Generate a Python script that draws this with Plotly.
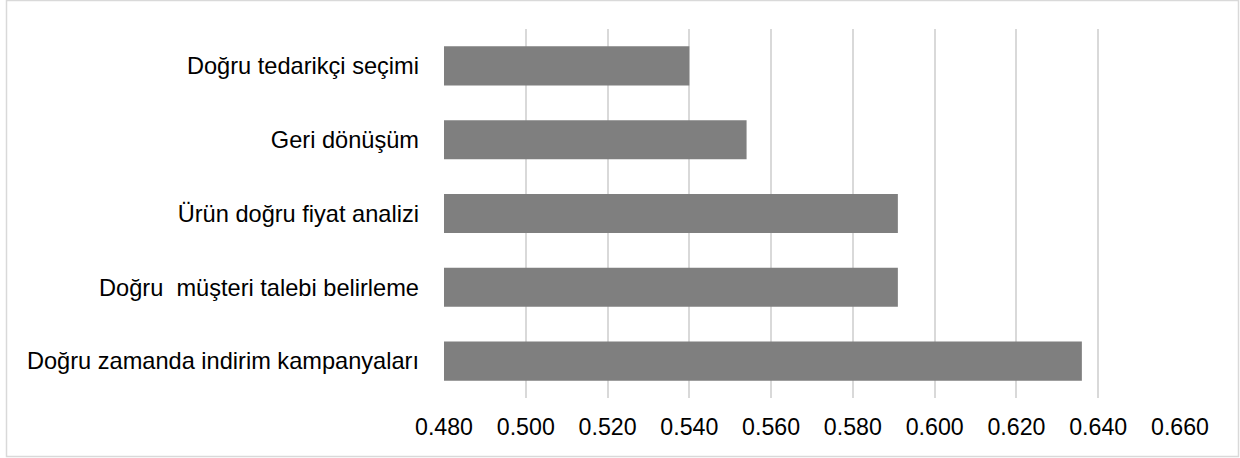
import plotly.graph_objects as go

# Category labels (top to bottom) and their scores
factors = [
    "Doğru tedarikçi seçimi",
    "Geri dönüşüm",
    "Ürün doğru fiyat analizi",
    "Doğru\u00a0 müşteri talebi belirleme",
    "Doğru zamanda indirim kampanyaları",
]
scores = [0.540, 0.554, 0.591, 0.591, 0.636]

x_min, x_max, x_step = 0.48, 0.66, 0.02

W, H = 1240, 458
L, R, T, B = 444, 60, 29, 60

# bars start at the left edge of the axis, so lengths are value minus base
fig = go.Figure(
    go.Bar(
        x=[s - x_min for s in scores],
        y=factors,
        base=x_min,
        orientation="h",
        marker=dict(color="#7f7f7f", line=dict(width=0)),
        hoverinfo="skip",
    )
)

cat_font = dict(family="Liberation Sans, Arial, sans-serif", size=23.6, color="#000000")
tick_font = dict(family="Liberation Sans, Arial, sans-serif", size=23.2, color="#000000")

fig.update_layout(
    width=W,
    height=H,
    margin=dict(l=L, r=R, t=T, b=B),
    paper_bgcolor="white",
    plot_bgcolor="white",
    bargap=0.47,
    showlegend=False,
    xaxis=dict(
        range=[x_min, x_max],
        dtick=x_step,
        tick0=x_min,
        tickformat=".3f",
        showgrid=True,
        gridcolor="#d9d9d9",
        gridwidth=1.5,
        zeroline=False,
        showline=False,
        ticks="",
        ticklabelstandoff=13,
        tickfont=tick_font,
    ),
    yaxis=dict(
        autorange="reversed",
        showgrid=False,
        zeroline=False,
        showline=False,
        ticks="",
        ticklabelstandoff=24,
        tickfont=cat_font,
    ),
)

# light frame around the whole chart area (pixel positions mapped to paper units)
pw = W - L - R
ph = H - T - B
fig.add_shape(
    type="rect",
    xref="paper",
    yref="paper",
    x0=(6.5 - L) / pw,
    x1=(1238.5 - L) / pw,
    y0=(H - B - 456.5) / ph,
    y1=(H - B - 0.5) / ph,
    line=dict(color="#d9d9d9", width=1.5),
    fillcolor="rgba(0,0,0,0)",
    layer="below",
)

fig.write_html("out.html")
